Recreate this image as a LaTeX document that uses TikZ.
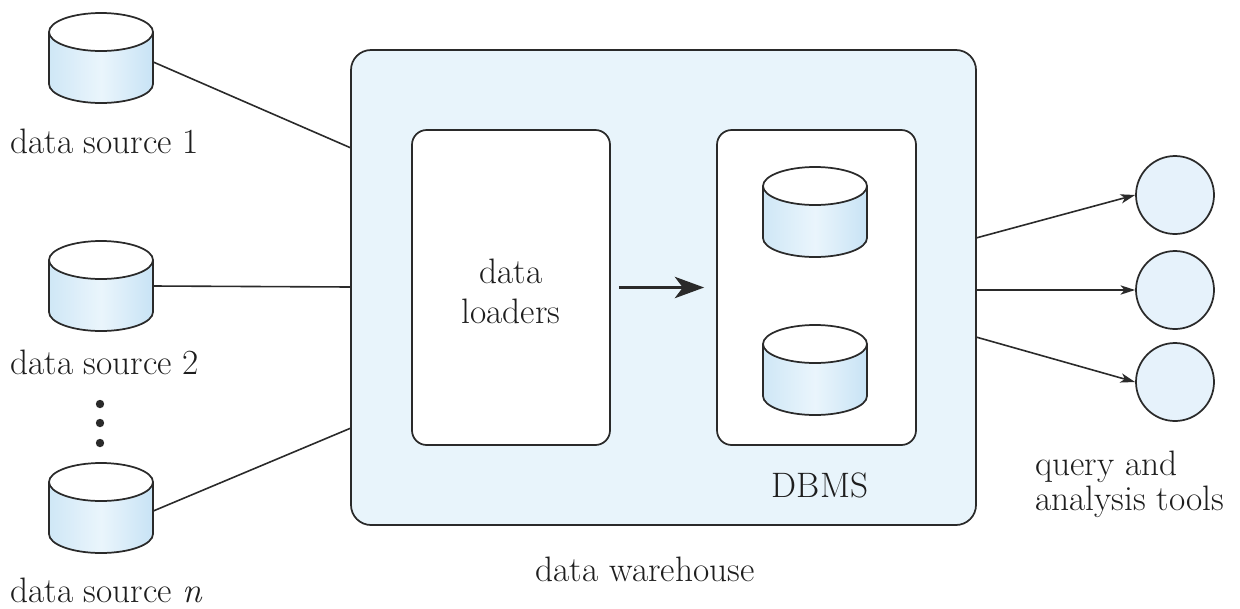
\documentclass[tikz,border=0pt]{standalone}
\usepackage{fontspec}
\usetikzlibrary{arrows.meta,calc}
\definecolor{whfill}{HTML}{E8F4FB}
\definecolor{cylL}{HTML}{CFE7F6}
\definecolor{cylM}{HTML}{EAF5FC}
\definecolor{cylR}{HTML}{C8E3F5}
\definecolor{circfill}{HTML}{E6F2FB}
\definecolor{ink}{HTML}{2A2A2A}
\definecolor{txtink}{HTML}{1E1E1E}
\tikzset{
  edge/.style={draw=ink, line width=1.3pt},
  conn/.style={draw=ink, line width=1.2pt},
  outarrow/.style={conn, -{Stealth[length=11pt,width=7pt,inset=3pt]}},
  bigarrow/.style={draw=ink, line width=2.2pt, -{Stealth[length=22pt,width=16pt,inset=6pt]}},
  txt/.style={text=txtink, inner sep=0pt, font=\fontsize{26.5}{31}\selectfont},
  box/.style={edge, rounded corners=11pt, inner sep=0pt},
  tool/.style={edge, circle, fill=circfill, minimum size=58.5pt, inner sep=0pt},
  cyl/.pic={
    \shade[left color=cylL, right color=cylR, middle color=cylM]
      (-52,0) -- (-52,-52) arc[start angle=180,end angle=360,x radius=52,y radius=19] -- (52,0) -- cycle;
    \draw[edge] (-52,0) -- (-52,-52) arc[start angle=180,end angle=360,x radius=52,y radius=19] -- (52,0);
    \draw[edge, fill=white] (0,0) ellipse[x radius=52,y radius=19];
    \node[inner sep=0pt, minimum width=78pt, minimum height=67.5pt] (-box) at (0,-26) {};
  }
}
\begin{document}
\begin{tikzpicture}[x=0.75pt,y=0.75pt]
\useasboundingbox (0,0) rectangle (1240,-608);

% data warehouse
\node[box, fill=whfill, rounded corners=15pt, minimum width=468.75pt, minimum height=356.25pt] (wh) at (663.5,-287.5) {};
\node[box, fill=white, minimum width=148.5pt, minimum height=236.25pt] (loaders) at (511,-287.5) {};
\node[txt, align=center, font=\fontsize{26.5}{30}\selectfont] (loadtxt) at (511,-291) {data\\loaders};
\node[box, fill=white, minimum width=149.25pt, minimum height=236.25pt] (dbms) at (816.5,-287.5) {};
\pic (da) at (815,-186) {cyl};
\pic (db) at (815,-344) {cyl};
\node[txt, anchor=base] (dbmstxt) at (820,-497) {DBMS};
\node[txt, anchor=base] (whtxt) at (645,-581) {data warehouse};
\draw[bigarrow, shorten <=6pt, shorten >=9pt] (loaders.east) -- (dbms.west);

% sources
\pic (s1) at (101,-32) {cyl};
\pic (s2) at (101,-260) {cyl};
\pic (sn) at (101,-482) {cyl};
\node[txt, anchor=base west] (l1) at (10,-153) {data source 1};
\node[txt, anchor=base west] (l2) at (10,-374) {data source 2};
\node[txt, anchor=base west] (ln) at (10,-602) {data source \textit{n}};
\fill[ink] (100,-404) circle[radius=4.2];
\fill[ink] (100,-423) circle[radius=4.2];
\fill[ink] (100,-443) circle[radius=4.2];

\coordinate (in1) at (351,-148);
\coordinate (in2) at (351,-287);
\coordinate (inn) at (351,-428);
\draw[conn] ($(s1-box.east)+(0,-4)$) -- (in1);
\draw[conn] (s2-box.east) -- (in2);
\draw[conn] ($(sn-box.east)+(0,-3)$) -- (inn);

% tools
\node[tool] (q1) at (1175,-195) {};
\node[tool] (q2) at (1175,-290) {};
\node[tool] (q3) at (1175,-382) {};
\coordinate (out1) at (976,-238);
\coordinate (out2) at (976,-290);
\coordinate (out3) at (976,-337);
\draw[outarrow] (out1) -- (q1.west);
\draw[outarrow] (out2) -- (q2.west);
\draw[outarrow] (out3) -- (q3.west);
\node[txt, align=left, anchor=west, font=\fontsize{26.5}{26}\selectfont] (qtxt) at (1035,-484) {query and\\analysis tools};
\end{tikzpicture}
\end{document}
